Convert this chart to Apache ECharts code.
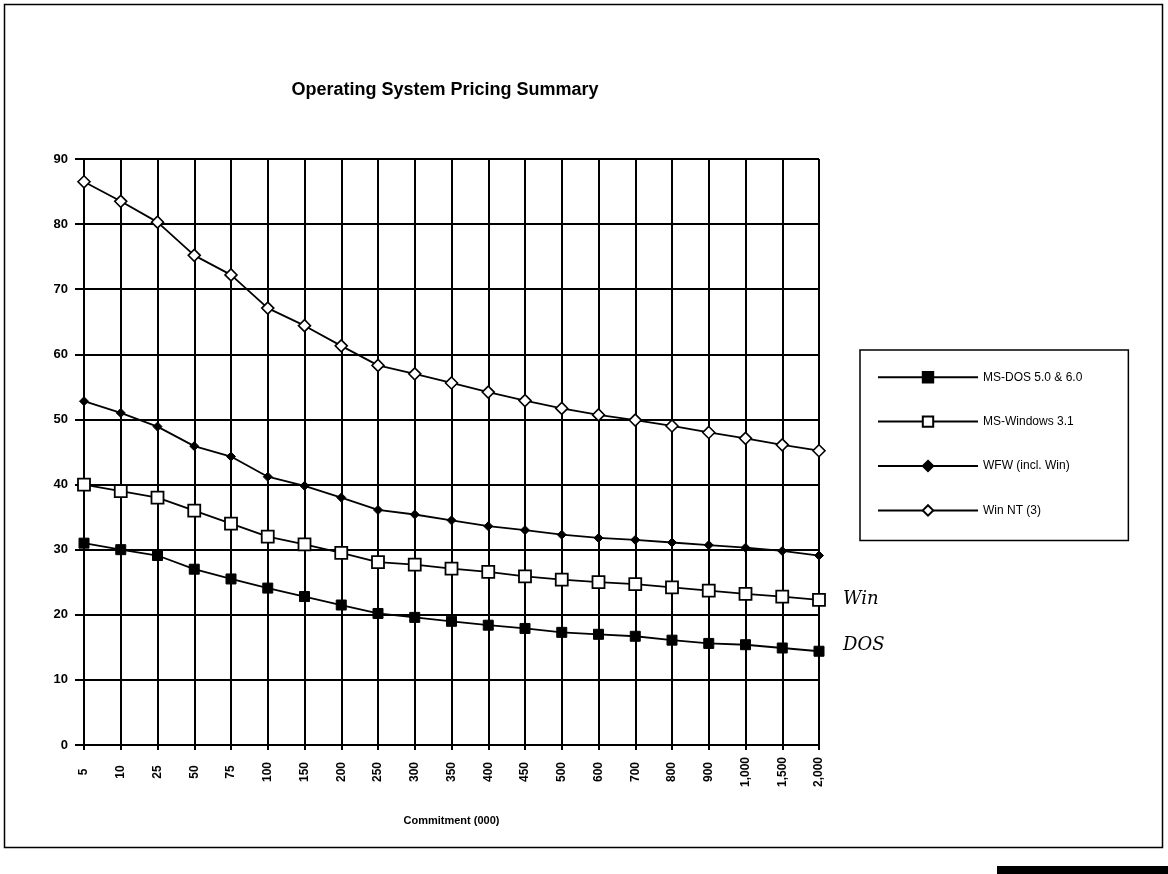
<!DOCTYPE html>
<html>
<head>
<meta charset="utf-8">
<script src="https://cdn.jsdelivr.net/npm/echarts@6/dist/echarts.min.js"></script>
<style>
  html, body { margin: 0; padding: 0; background: #fff; }
  #chart { width: 1168px; height: 874px; }
</style>
</head>
<body>
<div id="chart"></div>
<script>
const titleText = 'Operating System Pricing Summary';
const xAxisName = 'Commitment (000)';
const categories = ['5', '10', '25', '50', '75', '100', '150', '200', '250', '300', '350',
  '400', '450', '500', '600', '700', '800', '900', '1,000', '1,500', '2,000'];
const seriesNames = ['MS-DOS 5.0 & 6.0', 'MS-Windows 3.1', 'WFW (incl. Win)', 'Win NT (3)'];
const msDos = [31.0, 30.0, 29.1, 27.0, 25.5, 24.1, 22.8, 21.5, 20.2, 19.6, 19.0,
  18.4, 17.9, 17.3, 17.0, 16.7, 16.1, 15.6, 15.4, 14.9, 14.4];
const msWindows = [40.0, 39.0, 38.0, 36.0, 34.0, 32.0, 30.8, 29.5, 28.1, 27.7, 27.1,
  26.6, 25.9, 25.4, 25.0, 24.7, 24.2, 23.7, 23.2, 22.8, 22.3];
const wfw = [52.8, 51.0, 48.9, 45.9, 44.3, 41.2, 39.8, 38.0, 36.1, 35.4, 34.5,
  33.6, 33.0, 32.3, 31.8, 31.5, 31.1, 30.7, 30.3, 29.8, 29.1];
const winNT = [86.5, 83.5, 80.3, 75.2, 72.2, 67.1, 64.4, 61.3, 58.3, 57.0, 55.6,
  54.2, 52.9, 51.7, 50.7, 49.9, 49.0, 48.0, 47.1, 46.1, 45.2];
const annotations = ['Win', 'DOS'];

const font = 'Liberation Sans, Arial, sans-serif';
const chart = echarts.init(document.getElementById('chart'), null, { renderer: 'canvas' });

const lineStyle = { color: '#000', width: 1.8 };

chart.setOption({
  animation: false,
  backgroundColor: '#fff',
  title: {
    text: titleText,
    left: 440,
    top: 76,
    textAlign: 'center',
    textStyle: { fontFamily: font, fontSize: 18, fontWeight: 'bold', color: '#000' }
  },
  grid: { left: 84, right: 349, top: 159, bottom: 129, containLabel: false },
  legend: {
    orient: 'vertical',
    left: 860,
    top: 350,
    itemWidth: 100,
    itemHeight: 13,
    itemGap: 32,
    padding: [21, 46, 24, 17],
    borderColor: '#000',
    borderWidth: 1.5,
    textStyle: { fontFamily: font, fontSize: 12, color: '#000' },
    data: seriesNames
  },
  xAxis: {
    type: 'category',
    data: categories,
    boundaryGap: false,
    name: xAxisName,
    nameLocation: 'middle',
    nameGap: 70,
    nameTextStyle: { fontFamily: font, fontSize: 11, fontWeight: 'bold', color: '#000' },
    axisLine: { lineStyle: { color: '#000', width: 2 } },
    axisTick: { show: true, length: 5, interval: 0, lineStyle: { color: '#000', width: 2 } },
    axisLabel: {
      interval: 0, rotate: 90, margin: 27, align: 'center', verticalAlign: 'middle',
      fontFamily: font, fontSize: 12, fontWeight: 'bold', color: '#000'
    },
    splitLine: { show: true, interval: 0, lineStyle: { color: '#000', width: 2 } }
  },
  yAxis: {
    type: 'value',
    min: 0,
    max: 90,
    interval: 10,
    axisLine: { show: true, lineStyle: { color: '#000', width: 2 } },
    axisTick: { show: true, length: 9, lineStyle: { color: '#000', width: 2 } },
    axisLabel: { margin: 16, fontFamily: font, fontSize: 13, fontWeight: 'bold', color: '#000' },
    splitLine: { show: true, lineStyle: { color: '#000', width: 2 } }
  },
  series: [
    {
      name: seriesNames[0], type: 'line', data: msDos,
      symbol: 'rect', symbolSize: 10,
      itemStyle: { color: '#000', borderColor: '#000', borderWidth: 1 },
      lineStyle: lineStyle,
      endLabel: {
        show: true, formatter: annotations[1], distance: 24, offset: [0, -6],
        fontFamily: 'DejaVu Serif', fontStyle: 'italic', fontSize: 18, color: '#000'
      },
      z: 4
    },
    {
      name: seriesNames[1], type: 'line', data: msWindows,
      symbol: 'rect', symbolSize: 12,
      itemStyle: { color: '#fff', borderColor: '#000', borderWidth: 1.8 },
      lineStyle: lineStyle,
      endLabel: {
        show: true, formatter: annotations[0], distance: 24, offset: [0, 0],
        fontFamily: 'DejaVu Serif', fontStyle: 'italic', fontSize: 18, color: '#000'
      },
      z: 4
    },
    {
      name: seriesNames[2], type: 'line', data: wfw,
      symbol: 'diamond', symbolSize: 9,
      itemStyle: { color: '#000', borderColor: '#000', borderWidth: 1 },
      lineStyle: lineStyle,
      z: 4
    },
    {
      name: seriesNames[3], type: 'line', data: winNT,
      symbol: 'diamond', symbolSize: 12,
      itemStyle: { color: '#fff', borderColor: '#000', borderWidth: 1.6 },
      lineStyle: lineStyle,
      z: 4
    }
  ],
  graphic: [
    {
      type: 'rect', left: 2, top: 2, z: -1, silent: true,
      shape: { width: 1158, height: 843 },
      style: { fill: 'none', stroke: '#000', lineWidth: 1.5 }
    },
    {
      type: 'rect', left: 997, top: 866, silent: true,
      shape: { width: 171, height: 8 },
      style: { fill: '#000' }
    }
  ]
});
</script>
</body>
</html>
